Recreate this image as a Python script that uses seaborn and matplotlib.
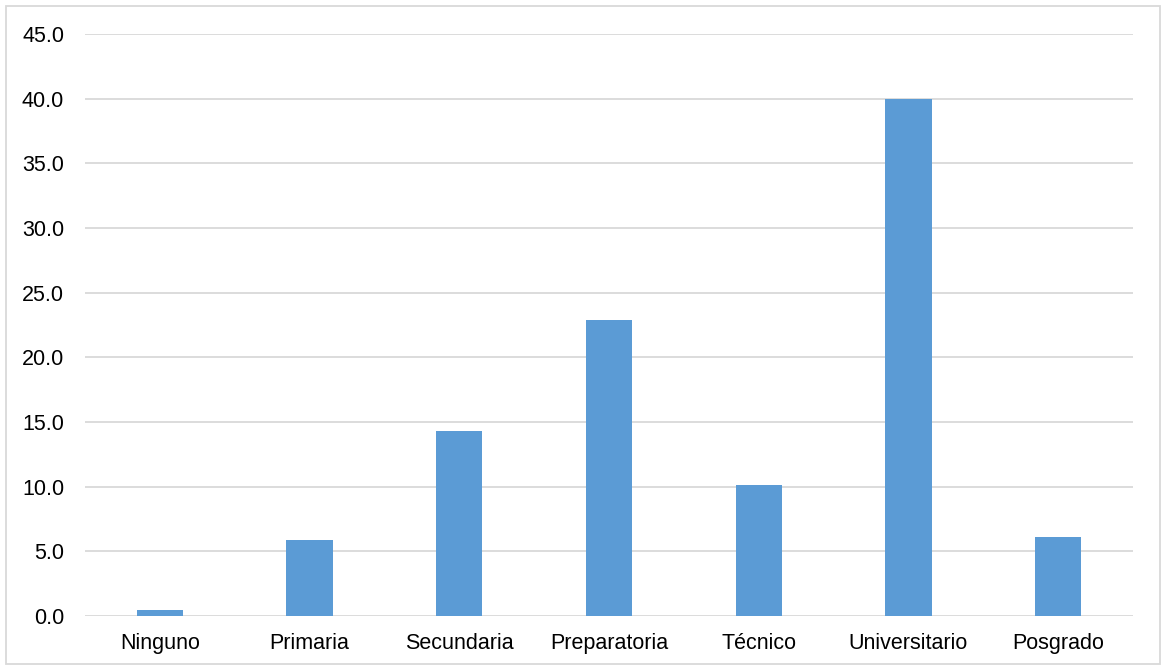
import matplotlib
matplotlib.use("Agg")
import matplotlib.pyplot as plt
from matplotlib.patches import Rectangle
import seaborn as sns
import pandas as pd

categories = ["Ninguno", "Primaria", "Secundaria", "Preparatoria", "Técnico", "Universitario", "Posgrado"]
values = [0.5, 5.9, 14.3, 22.9, 10.1, 40.0, 6.1]
y_ticks = [0, 5, 10, 15, 20, 25, 30, 35, 40, 45]

sns.set_theme(style="white")
plt.rcParams["font.family"] = ["Liberation Sans", "DejaVu Sans"]

df = pd.DataFrame({"nivel": categories, "pct": values})

fig = plt.figure(figsize=(11.63, 6.68), dpi=100)
ax = fig.add_axes([85 / 1163, 52 / 668, 1048 / 1163, 582 / 668])

sns.barplot(data=df, x="nivel", y="pct", color="#5b9bd5", width=0.31,
            saturation=1, linewidth=0, ax=ax, zorder=3)

ax.set_ylim(0, 45)
ax.set_yticks(y_ticks)
ax.set_yticklabels([f"{v:.1f}" for v in y_ticks])
ax.set_xlim(-0.5, len(categories) - 0.5)
ax.yaxis.grid(True, color="#d9d9d9", linewidth=1.3, zorder=0)
ax.set_axisbelow(True)
for s in ax.spines.values():
    s.set_visible(False)
ax.set_xlabel("")
ax.set_ylabel("")
ax.tick_params(axis="both", length=0, labelsize=15.5, colors="#000000")
ax.tick_params(axis="y", pad=15)
ax.tick_params(axis="x", pad=12)

fig.patches.append(Rectangle((6 / 1163, 4 / 668), 1154 / 1163, 658 / 668,
                             transform=fig.transFigure, fill=False,
                             edgecolor="#d9d9d9", linewidth=1.3))

fig.savefig("out.png", dpi=100)
